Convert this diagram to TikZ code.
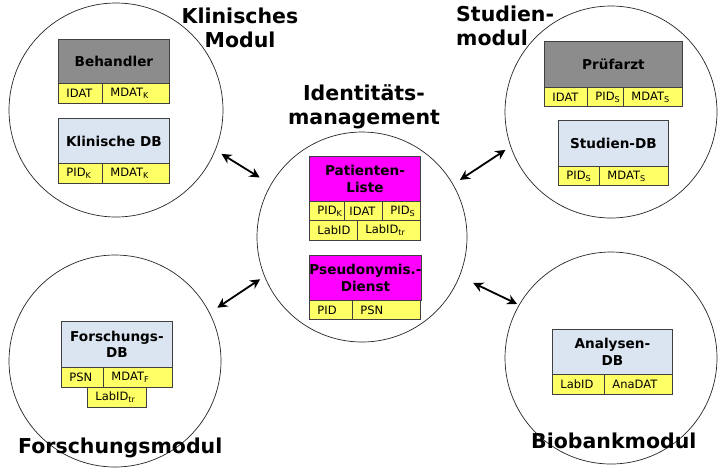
\documentclass[tikz,border=0pt]{standalone}
\usepackage{fontspec}
\setmainfont{DejaVu Sans}
\usetikzlibrary{arrows.meta}
\definecolor{hdrgray}{HTML}{8C8C8C}
\definecolor{dbblue}{HTML}{DBE5F1}
\definecolor{yel}{HTML}{FFFF66}
\definecolor{mag}{HTML}{FF00FF}
\definecolor{bord}{HTML}{404040}
\tikzset{
  modcircle/.style={circle, draw=black!85, line width=0.7pt, inner sep=0pt},
  hdr/.style={draw=bord, line width=0.9pt, anchor=north west, inner sep=0pt,
    font=\fontsize{13.6}{16.5}\selectfont\bfseries, align=center},
  cell/.style={draw=bord, line width=0.9pt, fill=yel, anchor=north west,
    inner ysep=0pt, inner xsep=8pt, align=left,
    font=\fontsize{11.5}{13}\selectfont},
  title/.style={font=\fontsize{20.5}{23.5}\selectfont\bfseries, inner sep=0pt},
  biarrow/.style={{Stealth[length=10pt,width=10pt]}-{Stealth[length=10pt,width=10pt]}, line width=1.8pt}
}
\newcommand{\sbs}[1]{\textsubscript{#1}}
\begin{document}
\begin{tikzpicture}[x=1pt,y=-1pt]
\useasboundingbox (0,0) rectangle (719,467);
\fill[white] (0,0) rectangle (719,467);

% circles
\node[modcircle, minimum size=214pt] (klin) at (116,110) {};
\node[modcircle, minimum size=212pt] (stud) at (611,112) {};
\node[modcircle, minimum size=210pt] (idm) at (362,237) {};
\node[modcircle, minimum size=212pt] (forsch) at (115,361) {};
\node[modcircle, minimum size=212pt] (bio) at (611,358) {};

% titles (base anchor = baseline of the last line)
\node[title, align=center, anchor=base] (tklin) at (240,47) {Klinisches\\Modul};
\node[title, align=left, anchor=base west] (tstud) at (456,45) {Studien-\\modul};
\node[title, align=center, anchor=base] (tidm) at (364,124) {Identitäts-\\management};
\node[title, anchor=base west] (tfor) at (18,453) {Forschungsmodul};
\node[title, anchor=base west] (tbio) at (531,448) {Biobankmodul};

% Klinisches Modul
\node[hdr, fill=hdrgray, minimum width=111pt, minimum height=44pt] (beh) at (58,39) {Behandler};
\node[cell, minimum height=20pt, text width=28pt] (behA) at (58,83) {IDAT};
\node[cell, minimum height=20pt, text width=51pt] (behB) at (102,83) {MDAT\sbs{K}};
\node[hdr, fill=dbblue, minimum width=111pt, minimum height=45pt] (kdb) at (58,118) {Klinische DB};
\node[cell, minimum height=20pt, text width=28pt] (kdbA) at (58,163) {PID\sbs{K}};
\node[cell, minimum height=20pt, text width=51pt] (kdbB) at (102,163) {MDAT\sbs{K}};

% Identitaetsmanagement
\node[hdr, fill=mag, minimum width=111pt, minimum height=45pt] (pl) at (309,156) {Patienten-\\Liste};
\node[cell, minimum height=19pt, text width=19pt] (plA) at (309,201) {PID\sbs{K}};
\node[cell, minimum height=19pt, inner xsep=5pt, text width=28pt] (plB) at (344,201) {IDAT};
\node[cell, minimum height=19pt, text width=22pt] (plC) at (382,201) {PID\sbs{S}};
\node[cell, minimum height=20pt, text width=32pt] (plD) at (309,220) {LabID};
\node[cell, minimum height=20pt, text width=47pt] (plE) at (357,220) {LabID\sbs{tr}};
\node[hdr, fill=mag, minimum width=111pt, minimum height=45pt] (psd) at (309,255) {Pseudonymis.-\\Dienst};
\node[cell, minimum height=19pt, text width=27pt] (psdA) at (309,300) {PID};
\node[cell, minimum height=19pt, text width=52pt] (psdB) at (352,300) {PSN};

% Studienmodul
\node[hdr, fill=hdrgray, minimum width=138pt, minimum height=46pt] (pa) at (544,41) {Prüfarzt};
\node[cell, minimum height=19pt, text width=27pt] (paA) at (544,87) {IDAT};
\node[cell, minimum height=19pt, text width=20pt] (paB) at (587,87) {PID\sbs{S}};
\node[cell, minimum height=19pt, text width=43pt] (paC) at (623,87) {MDAT\sbs{S}};
\node[hdr, fill=dbblue, minimum width=110pt, minimum height=46pt] (sdb) at (558,120) {Studien-DB};
\node[cell, minimum height=19pt, text width=25pt] (sdbA) at (558,166) {PID\sbs{S}};
\node[cell, minimum height=19pt, text width=53pt] (sdbB) at (599,166) {MDAT\sbs{S}};

% Forschungsmodul
\node[hdr, fill=dbblue, minimum width=111pt, minimum height=46pt] (fdb) at (61,321) {Forschungs-\\DB};
\node[cell, minimum height=20pt, text width=26pt] (fdbA) at (61,367) {PSN};
\node[cell, minimum height=20pt, text width=53pt] (fdbB) at (103,367) {MDAT\sbs{F}};
\node[cell, minimum height=20pt, text width=43pt] (fdbC) at (87,387) {LabID\sbs{tr}};

% Biobankmodul
\node[hdr, fill=dbblue, minimum width=120pt, minimum height=45pt] (adb) at (552,329) {Analysen-\\DB};
\node[cell, minimum height=20pt, text width=36pt] (adbA) at (552,374) {LabID};
\node[cell, minimum height=20pt, text width=52pt] (adbB) at (604,374) {AnaDAT};

% arrows
\draw[biarrow, shorten <=7pt, shorten >=13pt] (klin.-22) -- (idm.150);
\draw[biarrow, shorten <=6pt, shorten >=8pt] (stud.199) -- (idm.30);
\draw[biarrow, shorten <=9pt, shorten >=5pt] (forsch.27.5) -- (idm.202);
\draw[biarrow, shorten <=15pt, shorten >=2pt] (idm.-22) -- (bio.150.6);
\end{tikzpicture}
\end{document}
